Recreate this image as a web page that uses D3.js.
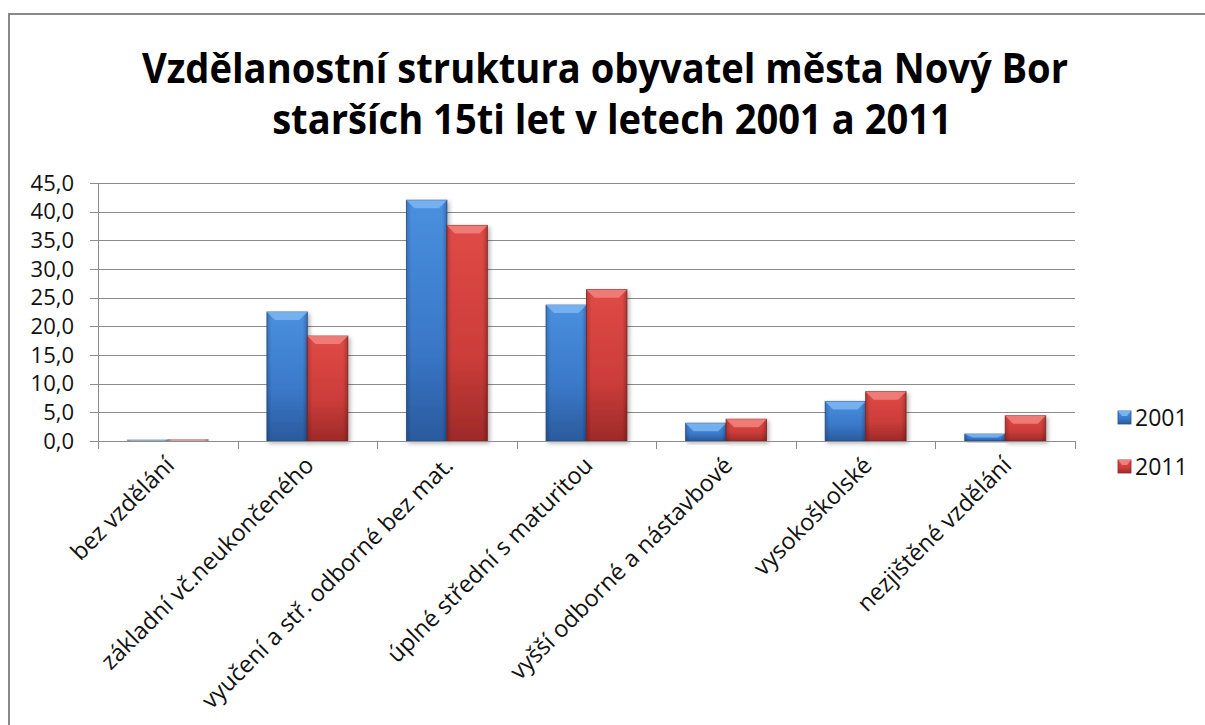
<!DOCTYPE html>
<html>
<head>
<meta charset="utf-8">
<script src="https://cdn.jsdelivr.net/npm/d3@7"></script>
<style>
  body { margin: 0; background: #fff; }
  svg { display: block; font-family: "Open Sans", "Noto Sans", sans-serif; }
</style>
</head>
<body>
<svg width="1205" height="725"></svg>
<script>
// data
var categories = [
  "bez vzdělání",
  "základní vč.neukončeného",
  "vyučení a stř. odborné bez mat.",
  "úplné střední s maturitou",
  "vyšší odborné a nástavbové",
  "vysokoškolské",
  "nezjištěné vzdělání"
];
var years = ["2001", "2011"];
var values2001 = [0.2, 22.5, 42.0, 23.7, 3.1, 6.9, 1.2];
var values2011 = [0.3, 18.3, 37.6, 26.4, 3.8, 8.6, 4.4];
var yTicks = [0, 5, 10, 15, 20, 25, 30, 35, 40, 45];
var titleLines = [
  "Vzdělanostní struktura obyvatel města Nový Bor",
  "starších 15ti let v letech 2001 a 2011"
];

var series = [
  { name: years[0], values: values2001, top: "#4a90e0", mid: "#3a78c8", bottom: "#2a5a9e", bevel: "#79b4f2", edge: "#24508c" },
  { name: years[1], values: values2011, top: "#e04a46", mid: "#cc3d3a", bottom: "#9e2a28", bevel: "#f2807a", edge: "#8a2422" }
];

var svg = d3.select("svg"),
    width = +svg.attr("width"),
    height = +svg.attr("height");

var margin = { left: 98, right: 130, top: 183, bottom: 725 - 441 };

// scales
var x = d3.scaleBand()
    .domain(categories)
    .range([margin.left, width - margin.right])
    .paddingInner(0).paddingOuter(0);

var y = d3.scaleLinear()
    .domain([0, 45])
    .range([441, 183]);

// gradients
var defs = svg.append("defs");
series.forEach(function (s, i) {
  var g = defs.append("linearGradient")
      .attr("id", "grad" + i)
      .attr("x1", 0).attr("y1", 0).attr("x2", 0).attr("y2", 1);
  g.append("stop").attr("offset", "0%").attr("stop-color", s.top);
  g.append("stop").attr("offset", "60%").attr("stop-color", s.mid);
  g.append("stop").attr("offset", "100%").attr("stop-color", s.bottom);
  var h = defs.append("linearGradient")
      .attr("id", "side" + i)
      .attr("x1", 0).attr("y1", 0).attr("x2", 1).attr("y2", 0);
  h.append("stop").attr("offset", "0%").attr("stop-color", "#000").attr("stop-opacity", 0.18);
  h.append("stop").attr("offset", "12%").attr("stop-color", "#000").attr("stop-opacity", 0);
  h.append("stop").attr("offset", "88%").attr("stop-color", "#000").attr("stop-opacity", 0);
  h.append("stop").attr("offset", "100%").attr("stop-color", "#000").attr("stop-opacity", 0.22);
});
var shadow = defs.append("filter").attr("id", "shadow")
    .attr("x", "-20%").attr("y", "-10%").attr("width", "150%").attr("height", "130%");
shadow.append("feDropShadow")
    .attr("dx", 2).attr("dy", 2).attr("stdDeviation", 2)
    .attr("flood-color", "#000").attr("flood-opacity", 0.3);

// frame
svg.append("rect")
    .attr("x", 9).attr("y", 14)
    .attr("width", width + 20).attr("height", height + 20)
    .attr("fill", "none")
    .attr("stroke", "#888")
    .attr("stroke-width", 2);

// title (Calibri-like proportions: stretch a little vertically)
var titlePos = [[605, 83], [612, 134]];
var title = svg.append("g").attr("class", "title");
var titleText = title.selectAll("text")
    .data(titleLines)
    .enter().append("text")
    .attr("transform", function (d, i) {
      return "translate(" + titlePos[i][0] + "," + titlePos[i][1] + ") scale(1,1.07)";
    })
    .attr("text-anchor", "middle")
    .attr("font-weight", "bold")
    .attr("font-size", 40)
    .attr("fill", "#000")
    .text(function (d) { return d; });
// fit first line to target width
var t0 = titleText.node();
var fs = 40 * 926 / t0.getComputedTextLength();
titleText.attr("font-size", fs);

// gridlines
svg.append("g")
    .selectAll("line")
    .data(yTicks)
    .enter().append("line")
    .attr("x1", margin.left - 8)
    .attr("x2", width - margin.right)
    .attr("y1", function (d) { return Math.round(y(d)) + 0.5; })
    .attr("y2", function (d) { return Math.round(y(d)) + 0.5; })
    .attr("stroke", "#8c8c8c")
    .attr("stroke-width", 1);

// y axis line
svg.append("line")
    .attr("x1", margin.left + 0.5).attr("x2", margin.left + 0.5)
    .attr("y1", y(45)).attr("y2", y(0))
    .attr("stroke", "#8c8c8c");

// y tick labels
svg.append("g")
    .selectAll("text")
    .data(yTicks)
    .enter().append("text")
    .attr("x", 74)
    .attr("y", function (d) { return y(d); })
    .attr("dy", "0.35em")
    .attr("text-anchor", "end")
    .attr("font-size", 22)
    .attr("fill", "#111")
    .text(function (d) { return d3.format(".1f")(d).replace(".", ","); });

// x axis ticks
var bounds = categories.map(function (c) { return x(c); }).concat([x.range()[1]]);
svg.append("g")
    .selectAll("line")
    .data(bounds)
    .enter().append("line")
    .attr("x1", function (d) { return Math.round(d) + 0.5; })
    .attr("x2", function (d) { return Math.round(d) + 0.5; })
    .attr("y1", y(0))
    .attr("y2", y(0) + 8)
    .attr("stroke", "#8c8c8c");

// bars
var inner = d3.scaleBand()
    .domain(years)
    .range([0, x.bandwidth()])
    .paddingOuter(0.725)
    .paddingInner(0);

var groups = svg.append("g").selectAll("g")
    .data(categories)
    .enter().append("g")
    .attr("transform", function (c) { return "translate(" + x(c) + ",0)"; });

series.forEach(function (s, i) {
  var bar = groups.append("g")
      .attr("filter", "url(#shadow)")
      .datum(function (c, j) { return { v: s.values[j] }; });
  var bx = inner(s.name), bw = inner.bandwidth();
  bar.append("rect")
      .attr("x", bx)
      .attr("y", function (d) { return y(d.v); })
      .attr("width", bw)
      .attr("height", function (d) { return y(0) - y(d.v); })
      .attr("fill", "url(#grad" + i + ")")
      .attr("fill-opacity", function (d) { return d.v < 1 ? 0.35 : 1; })
      .attr("stroke", s.edge)
      .attr("stroke-opacity", function (d) { return d.v < 1 ? 0.3 : 0.8; })
      .attr("stroke-width", 1);
  bar.append("rect")
      .attr("x", bx)
      .attr("y", function (d) { return y(d.v); })
      .attr("width", bw)
      .attr("height", function (d) { return y(0) - y(d.v); })
      .attr("fill", "url(#side" + i + ")");
  // top bevel
  bar.append("path")
      .attr("d", function (d) {
        var top = y(d.v), h = Math.min(8, (y(0) - top) / 2);
        return "M" + bx + "," + top + "L" + (bx + bw) + "," + top +
               "L" + (bx + bw - 8) + "," + (top + h) + "L" + (bx + 8) + "," + (top + h) + "Z";
      })
      .attr("fill", s.bevel)
      .attr("fill-opacity", function (d) { return d.v < 1 ? 0 : 0.9; });
});

// x axis line
svg.append("line")
    .attr("x1", margin.left - 8).attr("x2", width - margin.right)
    .attr("y1", Math.round(y(0)) + 0.5).attr("y2", Math.round(y(0)) + 0.5)
    .attr("stroke", "#8c8c8c");

// category labels
svg.append("g")
    .selectAll("text")
    .data(categories)
    .enter().append("text")
    .attr("transform", function (c) {
      return "translate(" + (x(c) + x.bandwidth() / 2 - 4) + "," + (y(0) + 14) + ") rotate(-45)";
    })
    .attr("text-anchor", "end")
    .attr("dy", "0.71em")
    .attr("font-size", 23.5)
    .attr("fill", "#111")
    .text(function (d) { return d; });

// legend
var legend = svg.append("g").selectAll("g")
    .data(series)
    .enter().append("g")
    .attr("transform", function (d, i) { return "translate(1118," + (411 + i * 49) + ")"; });
legend.append("rect")
    .attr("width", 13).attr("height", 13)
    .attr("fill", function (d, i) { return "url(#grad" + i + ")"; })
    .attr("stroke", function (d) { return d.edge; })
    .attr("stroke-width", 0.8);
legend.append("path")
    .attr("d", "M0,0L13,0L9,5L4,5Z")
    .attr("fill", function (d) { return d.bevel; });
legend.append("text")
    .attr("x", 17)
    .attr("y", 7)
    .attr("dy", "0.35em")
    .attr("font-size", 23)
    .attr("fill", "#111")
    .text(function (d) { return d.name; });
</script>
</body>
</html>
